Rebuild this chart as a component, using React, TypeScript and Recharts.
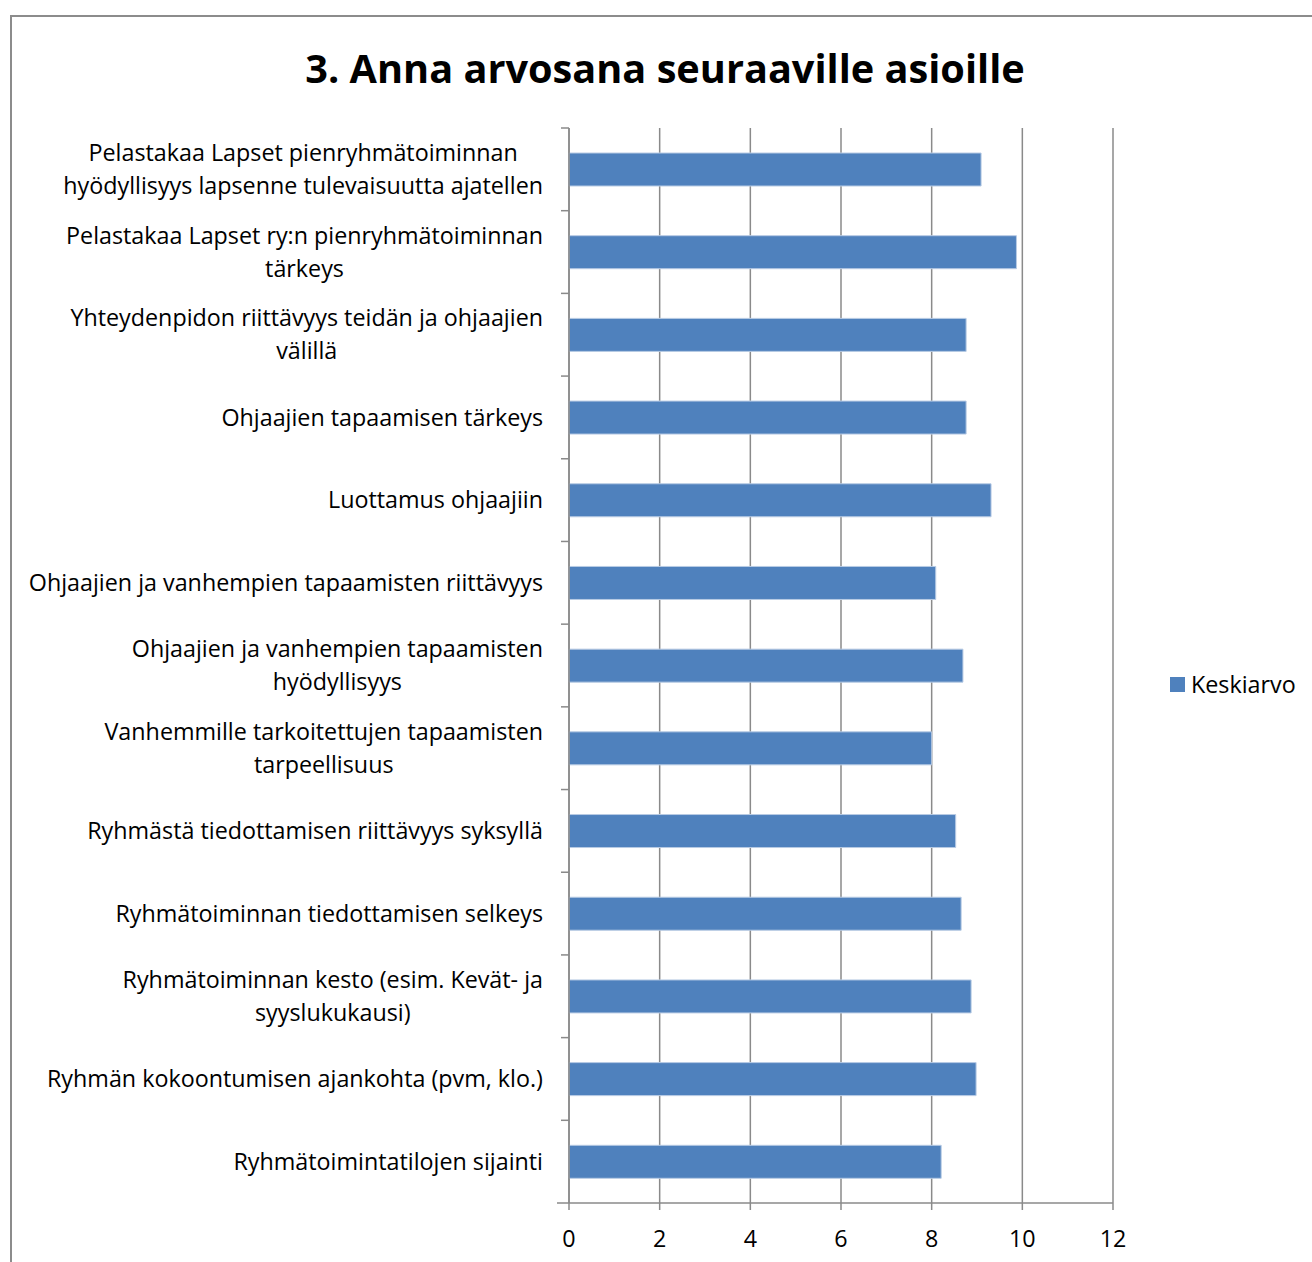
import React from "react";
import { BarChart, Bar, XAxis, YAxis, CartesianGrid } from "recharts";

const TITLE = "3. Anna arvosana seuraaville asioille";
const SERIES_NAME = "Keskiarvo";
const CATEGORIES = [
  "Pelastakaa Lapset pienryhmätoiminnan\nhyödyllisyys lapsenne tulevaisuutta ajatellen",
  "Pelastakaa Lapset ry:n pienryhmätoiminnan\ntärkeys",
  "Yhteydenpidon riittävyys teidän ja ohjaajien\nvälillä",
  "Ohjaajien tapaamisen tärkeys",
  "Luottamus ohjaajiin",
  "Ohjaajien ja vanhempien tapaamisten riittävyys",
  "Ohjaajien ja vanhempien tapaamisten\nhyödyllisyys",
  "Vanhemmille tarkoitettujen tapaamisten\ntarpeellisuus",
  "Ryhmästä tiedottamisen riittävyys syksyllä",
  "Ryhmätoiminnan tiedottamisen selkeys",
  "Ryhmätoiminnan kesto (esim. Kevät- ja\nsyyslukukausi)",
  "Ryhmän kokoontumisen ajankohta (pvm, klo.)",
  "Ryhmätoimintatilojen sijainti",
];
const VALUES = [9.09, 9.87, 8.76, 8.76, 9.31, 8.09, 8.69, 8.0, 8.53, 8.65, 8.87, 8.98, 8.21];
const X_TICKS = [0, 2, 4, 6, 8, 10, 12];

const data = CATEGORIES.map((name, i) => ({ name, value: VALUES[i] }));

const FONT = "'Open Sans', Lato, sans-serif";
const LABEL_SIZE = 23.3;
const GRID = "#8a8a8a";
const BAR = "#4F81BD";

let ctx: CanvasRenderingContext2D | null = null;
function measure(text: string): number {
  if (!ctx) {
    const c = document.createElement("canvas");
    ctx = c.getContext("2d");
  }
  if (!ctx) return text.length * 11;
  ctx.font = `${LABEL_SIZE}px ${FONT}`;
  return ctx.measureText(text).width;
}

const CategoryTick = (props: any) => {
  const { x, y, payload, index } = props;
  const lines: string[] = String(payload.value).split("\n");
  const half = payload.offset || 0;
  const widths = lines.map(measure);
  const maxW = Math.max(...widths);
  const right = x - 26;
  const cx = right - maxW / 2;
  const lh = 33;
  return (
    <g>
      <line x1={x - 8} x2={x} y1={y - half} y2={y - half} stroke={GRID} strokeWidth={1.5} />
      {index === CATEGORIES.length - 1 && (
        <line x1={x - 12} x2={x} y1={y + half} y2={y + half} stroke={GRID} strokeWidth={1.5} />
      )}
      {lines.map((ln, i) => (
        <text
          key={i}
          x={lines.length > 1 ? cx : right}
          y={y + (i - (lines.length - 1) / 2) * lh}
          dy="0.35em"
          textAnchor={lines.length > 1 ? "middle" : "end"}
          fontFamily={FONT}
          fontSize={LABEL_SIZE}
          fill="#000"
        >
          {ln}
        </text>
      ))}
    </g>
  );
};

export default function App() {
  return (
    <div style={{ position: "absolute", left: 0, top: 0, width: 1312, height: 1262, overflow: "hidden", background: "#fff" }}>
      <div
        style={{
          position: "absolute",
          left: 10,
          top: 15,
          width: 1400,
          height: 1400,
          border: "2px solid #8c8c8c",
          boxSizing: "border-box",
        }}
      />
      <div
        style={{
          position: "absolute",
          left: 0,
          top: 40,
          width: 1330,
          textAlign: "center",
          fontFamily: FONT,
          fontWeight: 700,
          fontSize: 39.7,
          color: "#000",
          lineHeight: "56px",
        }}
      >
        {TITLE}
      </div>
      <div style={{ position: "absolute", left: 0, top: 0 }}>
        <BarChart
          width={1312}
          height={1262}
          data={data}
          layout="vertical"
          margin={{ top: 128, right: 199, bottom: 0, left: 0 }}
          barSize={33}
        >
          <CartesianGrid horizontal={false} vertical={true} stroke={GRID} strokeWidth={1.5} />
          <XAxis
            type="number"
            domain={[0, 12]}
            ticks={X_TICKS}
            interval={0}
            height={59}
            axisLine={{ stroke: GRID, strokeWidth: 1.5 }}
            tickLine={{ stroke: GRID, strokeWidth: 1.5 }}
            tickSize={7}
            tickMargin={20}
            tick={{ fontFamily: FONT, fontSize: LABEL_SIZE, fill: "#000" }}
          />
          <YAxis
            type="category"
            dataKey="name"
            width={569}
            interval={0}
            axisLine={{ stroke: GRID, strokeWidth: 1.5 }}
            tickLine={false}
            tickSize={0}
            tickMargin={0}
            tick={<CategoryTick />}
          />
          <Bar
            dataKey="value"
            name={SERIES_NAME}
            fill={BAR}
            stroke="#b8cbe4"
            strokeWidth={1}
            isAnimationActive={false}
          />
        </BarChart>
      </div>
      <div
        style={{
          position: "absolute",
          left: 1170,
          top: 668,
          display: "flex",
          alignItems: "center",
          fontFamily: FONT,
          fontSize: LABEL_SIZE,
          color: "#000",
          lineHeight: "32px",
        }}
      >
        <span style={{ display: "inline-block", width: 15, height: 15, background: BAR, marginRight: 6 }} />
        <span>{SERIES_NAME}</span>
      </div>
    </div>
  );
}
